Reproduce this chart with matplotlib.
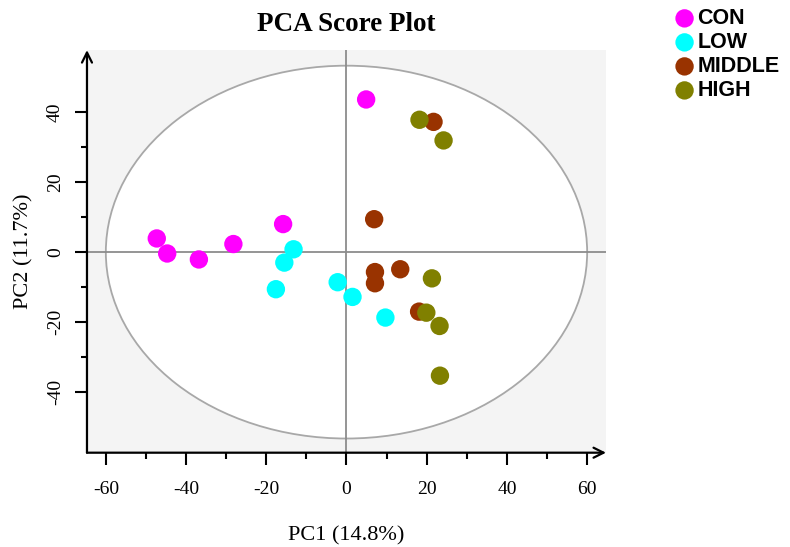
import matplotlib
matplotlib.use('Agg')
import matplotlib.pyplot as plt
from matplotlib.patches import Ellipse

# 그룹별 PCA 점수 (PC1, PC2)
groups = ['CON', 'LOW', 'MIDDLE', 'HIGH']
colors = ['#FF00FF', '#00FFFF', '#993300', '#808000']

con_x = [4.9, -47.3, -44.7, -36.8, -28.2, -15.8]
con_y = [43.6, 3.9, -0.4, -2.1, 2.3, 8.0]
low_x = [-13.2, -15.5, -17.6, -2.2, 1.5, 9.7]
low_y = [0.8, -3.0, -10.6, -8.6, -12.8, -18.7]
mid_x = [6.9, 7.1, 7.1, 13.4, 21.7, 18.1]
mid_y = [9.4, -5.7, -8.9, -4.9, 37.2, -17.0]
high_x = [18.2, 24.2, 21.3, 19.9, 23.2, 23.3]
high_y = [37.8, 31.9, -7.5, -17.3, -21.1, -35.3]

xs = [con_x, low_x, mid_x, high_x]
ys = [con_y, low_y, mid_y, high_y]

# Hotelling T2 타원 크기
ell_w = 120
ell_h = 106.5

plt.rcParams['font.family'] = ['Liberation Serif', 'DejaVu Serif']
plt.rcParams['axes.unicode_minus'] = False

fig = plt.figure(figsize=(7.9, 5.47), dpi=100)
ax = fig.add_axes([0.1101, 0.1724, 0.657, 0.736])
ax.set_facecolor('#F4F4F4')
ax.set_xlim(-64.7, 64.7)
ax.set_ylim(-57.3, 57.7)

ax.add_patch(Ellipse((0, 0), ell_w, ell_h, facecolor='white', edgecolor='#A8A8A8', lw=1.3, zorder=1))
ax.axhline(0, color='#8C8C8C', lw=1.3, zorder=2)
ax.axvline(0, color='#8C8C8C', lw=1.3, zorder=2)

handles = []
for g, c, x, y in zip(groups, colors, xs, ys):
    h = ax.scatter(x, y, s=175, color=c, edgecolors='none', label=g, zorder=3)
    handles.append(h)

# 축 스타일: 왼쪽/아래쪽만, 끝에 화살표
for s in ax.spines.values():
    s.set_visible(False)
ax.annotate('', xy=(1, 0), xytext=(0, 0), xycoords='axes fraction',
            arrowprops=dict(arrowstyle='->', lw=1.6, color='black', shrinkA=0, shrinkB=0,
                            mutation_scale=18))
ax.annotate('', xy=(0, 1), xytext=(0, 0), xycoords='axes fraction',
            arrowprops=dict(arrowstyle='->', lw=1.6, color='black', shrinkA=0, shrinkB=0,
                            mutation_scale=18))

ax.set_xticks([-60, -40, -20, 0, 20, 40, 60])
ax.set_xticks([-50, -30, -10, 10, 30, 50], minor=True)
ax.set_yticks([-40, -20, 0, 20, 40])
ax.set_yticks([-30, -10, 10, 30], minor=True)
ax.tick_params(which='major', direction='out', length=8.5, width=1.5, labelsize=14, pad=8)
ax.tick_params(which='minor', direction='out', length=4.3, width=1.5)
ax.tick_params(axis='x', which='major', pad=12)
for lab in ax.get_yticklabels():
    lab.set_rotation(90)
    lab.set_va('center')

ax.set_xlabel('PC1 (14.8%)', fontsize=16, labelpad=20)
ax.set_ylabel('PC2 (11.7%)', fontsize=16, labelpad=10)
ax.set_title('PCA Score Plot', fontsize=19.5, fontweight='bold', pad=14)

fig.legend(handles=handles, loc='upper left', bbox_to_anchor=(0.842, 1.005), frameon=False,
           prop={'family': 'Liberation Sans', 'weight': 'bold', 'size': 15.5},
           handlelength=0.8, handletextpad=0.2, labelspacing=0.14, borderpad=0,
           scatterpoints=1)

fig.savefig('out.png', dpi=100)
